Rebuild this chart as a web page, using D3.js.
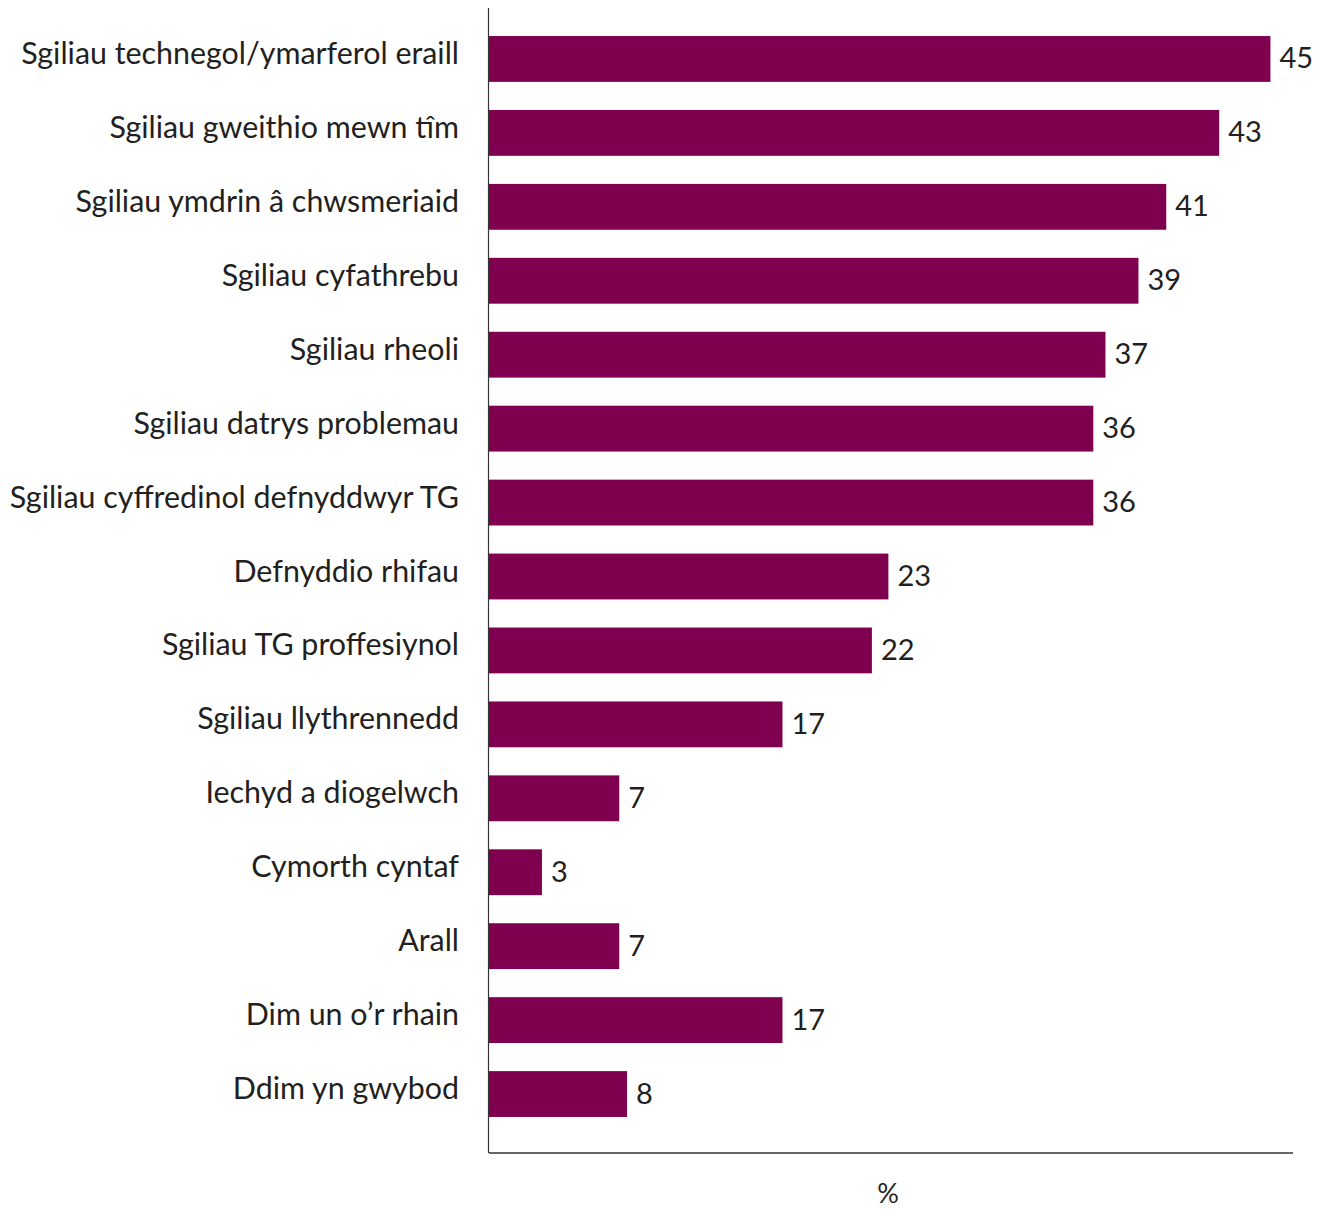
<!DOCTYPE html>
<html>
<head>
<meta charset="utf-8">
<script src="https://cdn.jsdelivr.net/npm/d3@7"></script>
<style>
  html, body { margin: 0; padding: 0; background: #fff; }
  svg text { font-family: Lato, "Open Sans", sans-serif; fill: #231f20; }
</style>
</head>
<body>
<svg id="chart" width="1325" height="1209"></svg>
<script>
// Categories (top to bottom)
const categories = [
  "Sgiliau technegol/ymarferol eraill",
  "Sgiliau gweithio mewn tîm",
  "Sgiliau ymdrin â chwsmeriaid",
  "Sgiliau cyfathrebu",
  "Sgiliau rheoli",
  "Sgiliau datrys problemau",
  "Sgiliau cyffredinol defnyddwyr TG",
  "Defnyddio rhifau",
  "Sgiliau TG proffesiynol",
  "Sgiliau llythrennedd",
  "Iechyd a diogelwch",
  "Cymorth cyntaf",
  "Arall",
  "Dim un o’r rhain",
  "Ddim yn gwybod"
];
// Bar lengths (%)
const values = [45.0, 42.05, 39.0, 37.4, 35.5, 34.8, 34.8, 23.0, 22.05, 16.9, 7.5, 3.05, 7.5, 16.9, 7.95];
// Value labels printed next to bars
const valueLabels = ["45", "43", "41", "39", "37", "36", "36", "23", "22", "17", "7", "3", "7", "17", "8"];
const axisTitle = "%";

const svg = d3.select("#chart");
const x = d3.scaleLinear().domain([0, 46.3]).range([489, 1293]);
const y = d3.scaleBand().domain(categories).range([22, 1131]).paddingInner(0.38).paddingOuter(0.19);

const barColor = "#800050";

// bars
svg.append("g").selectAll("rect")
  .data(categories)
  .join("rect")
  .attr("x", x(0))
  .attr("y", d => y(d))
  .attr("width", (d, i) => x(values[i]) - x(0))
  .attr("height", y.bandwidth())
  .attr("fill", barColor);

// category labels
svg.append("g").selectAll("text")
  .data(categories)
  .join("text")
  .attr("x", 459)
  .attr("y", d => y(d) + y.bandwidth() / 2 - 7)
  .attr("text-anchor", "end")
  .attr("dominant-baseline", "central")
  .style("font-size", "30.4px")
  .text(d => d);

// value labels
svg.append("g").selectAll("text")
  .data(categories)
  .join("text")
  .attr("x", (d, i) => x(values[i]) + 9)
  .attr("y", d => y(d) + y.bandwidth() / 2 - 2)
  .attr("dominant-baseline", "central")
  .style("font-size", "29px")
  .text((d, i) => valueLabels[i]);

// axes lines
svg.append("line")
  .attr("x1", 488.5).attr("x2", 488.5)
  .attr("y1", 8).attr("y2", 1153)
  .attr("stroke", "#333").attr("stroke-width", 1.2);
svg.append("line")
  .attr("x1", 489).attr("x2", 1293)
  .attr("y1", 1153).attr("y2", 1153)
  .attr("stroke", "#333").attr("stroke-width", 1.5);

// axis title
svg.append("text")
  .attr("x", (x.range()[0] + x.range()[1]) / 2 - 3)
  .attr("y", 1203)
  .attr("text-anchor", "middle")
  .style("font-size", "27px")
  .text(axisTitle);
</script>
</body>
</html>
